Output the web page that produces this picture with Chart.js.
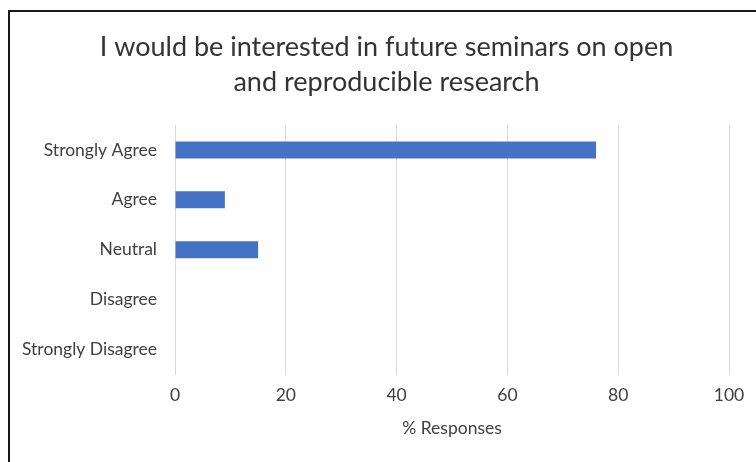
<!DOCTYPE html>
<html>
<head>
<meta charset="utf-8">
<script src="https://cdn.jsdelivr.net/npm/chart.js@4.4.1/dist/chart.umd.min.js"></script>
<style>
    html, body {
        margin: 0;
        padding: 0;
        background: #ffffff;
        overflow: hidden;
    }
    #wrap {
        position: relative;
        width: 756px;
        height: 462px;
    }
    #frame {
        position: absolute;
        left: 8px;
        top: 10px;
        width: 757px;
        height: 460px;
        border: 2px solid #1a1a1a;
        box-sizing: border-box;
        pointer-events: none;
    }
    canvas {
        position: absolute;
        left: 0;
        top: 0;
    }
</style>
</head>
<body>
<div id="wrap">
    <canvas id="responseChart" width="756" height="462"></canvas>
    <div id="frame"></div>
</div>
<script>
// Survey answers and their share of responses
const categories = ['Strongly Agree', 'Agree', 'Neutral', 'Disagree', 'Strongly Disagree'];
const responses = [76, 9, 15, 0, 0];
const xTicks = [0, 20, 40, 60, 80, 100];

const chartTitle = ['I would be interested in future seminars on open', 'and reproducible research'];
const axisTitle = '% Responses';

const textColor = '#404040';
const fontFamily = 'Lato, "Open Sans", sans-serif';

// Title is centred on the framed box (8px .. 765px), not on the plot
const frameLeft = 8;
const frameRight = 765;

const titlePlugin = {
    id: 'frameTitle',
    afterDraw(chart) {
        const c = chart.ctx;
        c.save();
        c.fillStyle = '#333333';
        c.font = '27px ' + fontFamily;
        c.textAlign = 'center';
        c.textBaseline = 'middle';
        const cx = (frameLeft + frameRight) / 2;
        c.fillText(chartTitle[0], cx, 47);
        c.fillText(chartTitle[1], cx, 82);
        c.restore();
    }
};

const ctx = document.getElementById('responseChart').getContext('2d');

new Chart(ctx, {
    type: 'bar',
    data: {
        labels: categories,
        datasets: [{
            data: responses,
            backgroundColor: '#4472C4',
            borderWidth: 0,
            barPercentage: 0.34,
            categoryPercentage: 1.0
        }]
    },
    options: {
        indexAxis: 'y',
        responsive: false,
        animation: false,
        layout: {
            padding: { left: 0, right: 27, top: 125, bottom: 23.5 }
        },
        plugins: {
            legend: { display: false },
            tooltip: { enabled: false },
            title: { display: false }
        },
        scales: {
            x: {
                min: 0,
                max: 100,
                afterBuildTicks: function(scale) {
                    scale.ticks = xTicks.map(v => ({ value: v }));
                },
                grid: {
                    color: '#d9d9d9',
                    lineWidth: 1,
                    drawTicks: false
                },
                border: { display: false },
                ticks: {
                    color: textColor,
                    padding: 10.5,
                    font: { family: fontFamily, size: 17.5 }
                },
                title: {
                    display: true,
                    text: axisTitle,
                    color: textColor,
                    font: { family: fontFamily, size: 17.5 },
                    padding: { top: 1, bottom: 0 }
                }
            },
            y: {
                afterFit: function(scale) {
                    scale.width = 175;
                },
                grid: { display: false, drawTicks: false },
                border: { display: false },
                ticks: {
                    color: textColor,
                    padding: 18,
                    font: { family: fontFamily, size: 17.5 }
                }
            }
        }
    },
    plugins: [titlePlugin]
});
</script>
</body>
</html>
